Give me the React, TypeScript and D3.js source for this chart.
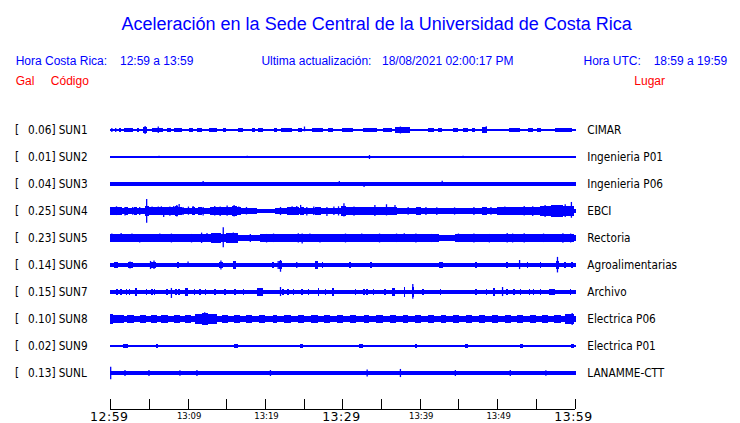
import React from "react";
import * as d3 from "d3";

// ---- data ----
const codes = ["SUN1", "SUN2", "SUN3", "SUN4", "SUN5", "SUN6", "SUN7", "SUN8", "SUN9", "SUNL"];
const peaks = ["0.06", "0.01", "0.04", "0.25", "0.23", "0.14", "0.15", "0.10", "0.02", "0.13"];
const places = ["CIMAR", "Ingenieria P01", "Ingenieria P06", "EBCI", "Rectoria", "Agroalimentarias", "Archivo", "Electrica P06", "Electrica P01", "LANAMME-CTT"];
// base half-amplitude of each trace (relative, 1 = half row height)
const baseAmp = [0.05, 0.04, 0.14, 0.15, 0.24, 0.15, 0.13, 0.22, 0.04, 0.15];

// bursts: [startMin, endMin, halfAmp]
const bursts1 = [[1.1,1.4,0.12],[1.8,2.9,0.15],[3.5,3.7,0.12],[4.2,4.7,0.2],[5.4,6.8,0.18],[7.3,7.9,0.12],[8.2,9.3,0.15],[10.2,10.7,0.12],[11.2,11.9,0.12],[12.8,13.8,0.15],[14.6,15.0,0.12],[16.5,17.2,0.12],[18.3,18.7,0.15],[19.1,19.8,0.12],[21.1,21.6,0.12],[22.0,23.5,0.15],[24.2,24.8,0.12],[26.1,27.5,0.15],[28.2,28.8,0.12],[30.0,31.4,0.15],[32.7,34.5,0.15],[35.2,36.4,0.18],[36.8,38.8,0.2],[41.1,41.8,0.12],[42.4,42.9,0.12],[44.3,44.9,0.12],[45.6,46.2,0.18],[46.8,47.2,0.12],[48.1,48.7,0.2],[51.5,53.0,0.15],[54.0,54.7,0.12],[55.2,55.7,0.12],[57.5,59.7,0.12]];
const bursts2 = [[33.4,33.6,0.12]];
const bursts3 = [];
const bursts4 = [[0,1.5,0.31],[1.5,4.5,0.22],[1.9,2.3,0.28],[3.0,3.4,0.28],[4.5,5.0,0.37],[5.0,7.3,0.26],[5.8,6.3,0.33],[7.3,9.3,0.3],[8.4,8.8,0.37],[9.3,12.9,0.22],[10.5,10.9,0.3],[11.4,11.8,0.28],[12.9,16.9,0.3],[15.7,16.4,0.37],[16.9,19.0,0.2],[21.3,24.6,0.22],[22.8,24.4,0.28],[24.6,25.0,0.3],[25.0,29.8,0.24],[26.5,27.2,0.3],[29.8,30.5,0.4],[30.5,32.5,0.3],[32.5,37.0,0.26],[33.8,34.4,0.33],[35.4,36.0,0.33],[37.0,43.0,0.22],[39.5,40.2,0.27],[43.0,46.0,0.2],[46.0,50.0,0.24],[48.0,48.7,0.3],[50.0,55.5,0.27],[52.0,52.8,0.33],[55.5,59.9,0.4],[57.0,58.5,0.45]];
const bursts5 = [[0,1.3,0.3],[1.3,13.0,0.26],[2.3,3.2,0.3],[5.2,6.0,0.3],[7.0,8.5,0.28],[9.2,10.5,0.3],[11.6,13.0,0.3],[13.0,14.3,0.37],[14.3,15.0,0.3],[15.0,16.5,0.35],[16.5,19.4,0.24],[19.4,21.3,0.28],[21.3,24.5,0.26],[24.5,25.8,0.33],[25.8,31.0,0.28],[27.5,28.3,0.32],[31.0,42.5,0.27],[33.0,34.0,0.31],[36.5,37.6,0.31],[42.5,44.5,0.22],[44.5,50.5,0.27],[46.5,47.5,0.31],[50.5,52.5,0.33],[52.5,59.9,0.28],[54.0,55.0,0.31],[58.0,59.9,0.33]];
const bursts6 = [[0.5,1.0,0.22],[2.3,2.9,0.22],[5.1,5.9,0.2],[8.6,8.9,0.22],[14.1,14.6,0.22],[15.8,16.3,0.26],[20.9,21.2,0.22],[21.8,22.2,0.3],[26.5,26.9,0.26],[27.3,27.5,0.22],[30.9,31.1,0.22],[33.6,33.8,0.22],[42.5,43.0,0.2],[47.1,47.4,0.22],[48.4,48.6,0.18],[51.2,51.4,0.22],[53.8,54.0,0.2],[55.5,55.7,0.2],[57.6,58.0,0.3],[58.7,58.9,0.2],[59.6,59.8,0.2]];
const bursts7 = [[0.8,1.0,0.22],[1.3,1.5,0.22],[2.0,2.2,0.22],[2.4,2.6,0.22],[3.2,3.5,0.3],[4.6,4.8,0.22],[5.3,5.5,0.22],[5.6,5.8,0.22],[7.2,7.4,0.22],[8.4,8.6,0.22],[8.8,9.0,0.22],[9.7,10.0,0.3],[10.8,11.0,0.22],[11.5,11.7,0.22],[12.2,12.4,0.22],[13.4,13.6,0.22],[14.7,14.9,0.22],[16.0,16.2,0.22],[17.1,17.3,0.22],[18.9,19.8,0.26],[21.9,22.1,0.3],[22.2,22.4,0.22],[22.9,23.1,0.22],[23.6,23.8,0.22],[24.7,24.9,0.22],[25.5,25.7,0.22],[26.8,27.0,0.26],[27.7,27.9,0.22],[28.7,28.9,0.3],[31.6,31.8,0.22],[32.7,32.9,0.22],[33.1,33.3,0.22],[33.9,34.1,0.22],[35.4,35.6,0.22],[36.4,36.8,0.3],[37.9,38.1,0.37],[39.0,39.3,0.37],[40.3,40.5,0.22],[42.6,42.8,0.22],[47.2,47.4,0.22],[48.5,48.7,0.22],[49.5,49.7,0.26],[51.2,51.4,0.22],[52.1,52.3,0.22],[52.9,53.1,0.22],[54.1,54.3,0.22],[54.6,54.8,0.22],[55.5,55.7,0.22],[56.7,57.5,0.2],[59.4,59.6,0.22]];
const bursts8 = [[0,0.4,0.37],[0.4,1.8,0.3],[2.2,3.0,0.3],[3.8,4.6,0.32],[5.3,6.0,0.3],[6.6,7.5,0.32],[8.2,9.0,0.3],[9.6,10.4,0.3],[11.0,13.8,0.37],[11.8,12.6,0.42],[14.5,15.2,0.3],[16.0,16.8,0.3],[17.6,18.3,0.28],[19.2,20.0,0.3],[21.0,21.6,0.28],[22.5,23.3,0.3],[24.2,25.0,0.3],[26.0,26.8,0.3],[27.6,28.4,0.28],[29.3,30.1,0.3],[31.0,31.8,0.3],[32.8,33.5,0.28],[34.4,35.2,0.3],[36.1,36.9,0.3],[37.8,38.5,0.28],[39.4,40.2,0.3],[41.0,41.8,0.3],[42.7,43.4,0.28],[44.3,45.1,0.3],[46.0,46.8,0.3],[47.7,48.4,0.28],[49.3,50.1,0.3],[51.0,51.8,0.3],[52.6,53.3,0.3],[54.2,55.0,0.3],[55.8,56.6,0.3],[57.4,58.2,0.3],[58.8,59.9,0.37]];
const bursts9 = [[0.5,0.8,0.1],[1.7,2.3,0.15],[3.1,3.4,0.1],[5.9,6.2,0.12],[7.8,8.1,0.1],[8.9,9.2,0.1],[10.4,10.7,0.1],[11.1,11.4,0.1],[16.0,16.5,0.12],[19.6,19.9,0.1],[24.5,24.9,0.12],[28.4,28.8,0.1],[32.2,32.6,0.12],[36.3,36.7,0.1],[39.4,39.7,0.12],[42.6,42.9,0.1],[45.8,46.2,0.12],[50.4,50.7,0.1],[52.9,53.3,0.12],[56.2,56.5,0.1],[59.6,59.9,0.12]];
const burstsL = [];

// spikes: [minute, upAmp, downAmp]
const spikes1 = [[0.2,0.15,0.15],[0.7,0.15,0.15],[4.5,0.3,0.3],[6.2,0.26,0.22],[25.1,0.26,0.1],[37.5,0.26,0.26],[48.6,0.28,0.2]];
const spikes2 = [[6.3,0.1,0.04],[17.7,0.09,0.04],[33.5,0.15,0.15],[45.6,0.1,0.07]];
const spikes3 = [[12.0,0.22,0.14],[29.6,0.22,0.14],[32.8,0.14,0.22],[42.9,0.24,0.14]];
const spikes4 = [[0.8,0.35,0.3],[1.9,0.3,0.33],[2.9,0.3,0.28],[3.8,0.3,0.3],[4.7,0.89,0.87],[5.4,0.33,0.3],[6.2,0.33,0.26],[6.6,0.35,0.3],[6.9,0.26,0.44],[7.7,0.33,0.35],[8.2,0.37,0.3],[8.6,0.45,0.4],[8.9,0.52,0.3],[9.4,0.3,0.3],[10.1,0.33,0.28],[10.7,0.37,0.26],[11.6,0.3,0.3],[12.0,0.3,0.33],[13.5,0.37,0.33],[14.2,0.33,0.37],[15.1,0.4,0.35],[16.0,0.45,0.4],[16.6,0.33,0.3],[17.6,0.3,0.26],[22.0,0.3,0.3],[23.5,0.35,0.3],[24.1,0.37,0.3],[24.6,0.45,0.3],[25.4,0.3,0.33],[26.3,0.33,0.3],[27.1,0.3,0.28],[28.0,0.3,0.37],[28.9,0.33,0.3],[29.5,0.35,0.33],[30.2,0.57,0.4],[31.5,0.33,0.35],[32.8,0.3,0.3],[34.2,0.45,0.37],[35.7,0.5,0.33],[36.8,0.45,0.3],[38.5,0.3,0.28],[40.8,0.3,0.3],[42.2,0.28,0.3],[44.5,0.27,0.27],[47.0,0.3,0.3],[49.2,0.3,0.28],[51.0,0.33,0.3],[53.5,0.37,0.33],[54.6,0.35,0.37],[56.2,0.45,0.45],[58.8,0.5,0.45],[59.6,0.67,0.5]];
const spikes5 = [[0.2,0.33,0.3],[1.4,0.37,0.3],[2.8,0.33,0.3],[3.8,0.3,0.33],[4.9,0.3,0.3],[6.4,0.33,0.3],[7.9,0.33,0.33],[9.0,0.3,0.3],[10.5,0.3,0.33],[11.8,0.4,0.37],[12.5,0.37,0.3],[13.5,0.35,0.33],[14.6,0.79,0.69],[15.3,0.37,0.35],[15.9,0.4,0.37],[16.4,0.37,0.33],[18.1,0.3,0.3],[20.2,0.3,0.33],[21.1,0.33,0.3],[22.8,0.3,0.3],[24.3,0.35,0.33],[24.8,0.33,0.4],[25.8,0.33,0.3],[27.1,0.3,0.33],[28.9,0.3,0.3],[30.4,0.33,0.33],[32.5,0.33,0.3],[34.8,0.33,0.33],[37.0,0.33,0.3],[38.0,0.35,0.3],[39.5,0.33,0.33],[41.5,0.3,0.3],[45.0,0.33,0.3],[47.0,0.33,0.33],[49.0,0.3,0.33],[51.3,0.37,0.33],[52.0,0.33,0.33],[53.5,0.35,0.33],[56.0,0.33,0.3],[58.5,0.35,0.35],[59.5,0.33,0.33]];
const spikes6 = [[2.55,0.26,0.26],[5.2,0.3,0.3],[5.65,0.33,0.3],[10.05,0.26,0.1],[14.3,0.33,0.33],[21.7,0.3,0.3],[22.0,0.37,0.5],[24.1,0.22,0.22],[52.9,0.37,0.3],[57.8,0.6,0.55]];
const spikes7 = [[7.9,0.3,0.44],[22.0,0.37,0.3],[39.1,0.59,0.5],[50.7,0.37,0.3]];
const spikes8 = [[12.2,0.5,0.45],[59.7,0.45,0.45]];
const spikes9 = [];
const spikesL = [[0.05,0.47,0.47],[1.9,0.22,0.22],[5.0,0.22,0.22],[9.0,0.2,0.2],[11.2,0.22,0.22],[20.7,0.22,0.22],[33.2,0.26,0.26],[37.5,0.3,0.3],[44.6,0.22,0.22],[51.7,0.22,0.22],[56.3,0.2,0.2]];

const burstSets = [bursts1, bursts2, bursts3, bursts4, bursts5, bursts6, bursts7, bursts8, bursts9, burstsL];
const spikeSets = [spikes1, spikes2, spikes3, spikes4, spikes5, spikes6, spikes7, spikes8, spikes9, spikesL];

const tickMinutes = [0, 5, 10, 15, 20, 25, 30, 35, 40, 45, 50, 55, 60];
const majorLabels = [[0, "12:59"], [30, "13:29"], [60, "13:59"]];
const minorLabels = [[10, "13:09"], [20, "13:19"], [40, "13:39"], [50, "13:49"]];

const BLUE = "#0000ff";
const HEAD = "'Liberation Sans', Arial, sans-serif";
const LAB = "'DejaVu Sans Condensed', 'DejaVu Sans', sans-serif";

export default function App() {
  const W = 740, H = 423;
  const x = d3.scaleLinear().domain([0, 60]).range([110.3, 574.5]);
  const row = d3.scaleBand().domain(codes).range([116.5, 386.5]).paddingInner(0);
  const amp = d3.scaleLinear().domain([-1, 1]).range([row.bandwidth() / 2, -row.bandwidth() / 2]);
  const axisY = 409;

  return (
    <svg width={W} height={H} style={{ position: "absolute", left: 0, top: 0, background: "#fff" }}>
      <rect width={W} height={H} fill="#fff" />
      <text x={376.7} y={29.5} textAnchor="middle" fontFamily={HEAD} fontSize={18} fill={BLUE}>
        Aceleración en la Sede Central de la Universidad de Costa Rica
      </text>
      <g fontFamily={HEAD} fontSize={12} fill={BLUE}>
        <text x={15.7} y={65}>Hora Costa Rica:</text>
        <text x={120} y={65}>12:59 a 13:59</text>
        <text x={261.4} y={65}>Ultima actualización:</text>
        <text x={382} y={65}>18/08/2021 02:00:17 PM</text>
        <text x={583.5} y={65}>Hora UTC:</text>
        <text x={653.7} y={65}>18:59 a 19:59</text>
      </g>
      <g fontFamily={HEAD} fontSize={12} fill="#ff0000">
        <text x={15.7} y={85}>Gal</text>
        <text x={50.8} y={85}>Código</text>
        <text x={634.3} y={85}>Lugar</text>
      </g>

      {codes.map((c, i) => {
        const cy = (row(c) as number) + row.bandwidth() / 2;
        const ty = cy + 4.3;
        return (
          <g key={c}>
            <g fontFamily={LAB} fontSize={11.7} fill="#000" style={{ fontStretch: "condensed" }}>
              <text x={15} y={ty}>[</text>
              <text x={55.5} y={ty} textAnchor="end">{peaks[i] + "]"}</text>
              <text x={58.7} y={ty}>{c}</text>
              <text x={587.3} y={ty}>{places[i]}</text>
            </g>
            <g fill={BLUE} shapeRendering="crispEdges">
              <rect x={x(0)} width={x(60) - x(0) + 1} y={cy + amp(baseAmp[i])} height={Math.max(1, amp(-baseAmp[i]) - amp(baseAmp[i]))} />
              {burstSets[i].map((b, j) => (
                <rect key={j} x={x(b[0])} width={Math.max(1.2, x(b[1]) - x(b[0]))} y={cy + amp(b[2])} height={amp(-b[2]) - amp(b[2])} />
              ))}
            </g>
            <g stroke={BLUE} strokeWidth={1.3}>
              {spikeSets[i].map((s, j) => (
                <line key={j} x1={x(s[0])} x2={x(s[0])} y1={cy + amp(s[1])} y2={cy + amp(-s[2])} />
              ))}
            </g>
          </g>
        );
      })}

      <g stroke="#000" strokeWidth={1} shapeRendering="crispEdges">
        <line x1={x(0)} x2={x(60)} y1={axisY} y2={axisY} />
        {tickMinutes.map((m) => (
          <line key={m} x1={Math.round(x(m)) + 0.5} x2={Math.round(x(m)) + 0.5} y1={axisY - 10} y2={axisY} />
        ))}
      </g>
      <g fontFamily="'DejaVu Sans', sans-serif" fill="#000">
        {majorLabels.map(([m, t]) => (
          <text key={t as string} x={x(m as number) - 1} y={421.3} textAnchor="middle" fontSize={12.5} letterSpacing={0.5}>{t}</text>
        ))}
        {minorLabels.map(([m, t]) => (
          <text key={t as string} x={x(m as number) + 1.5} y={419} textAnchor="middle" fontSize={8.5}>{t}</text>
        ))}
      </g>
    </svg>
  );
}
